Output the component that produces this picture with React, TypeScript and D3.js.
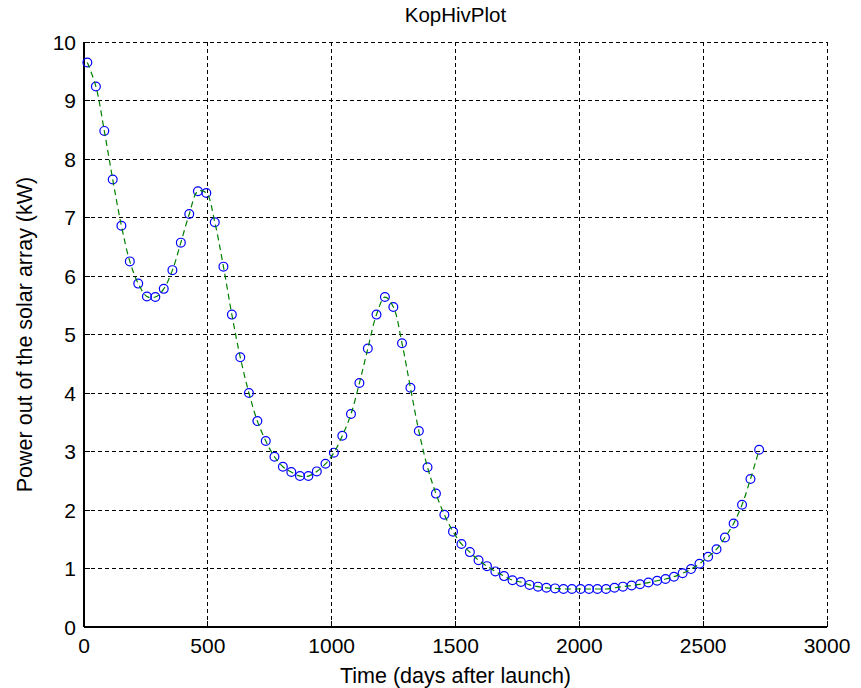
import React from "react";
import * as d3 from "d3";

const days: number[] = [
  13.5, 48, 82, 116, 151, 185, 219, 254, 288, 322,
  357, 391, 425, 460, 494, 528, 563, 597, 631, 666,
  700, 734, 769, 803, 837, 872, 906, 940, 975, 1009,
  1043, 1078, 1112, 1146, 1181, 1215, 1249, 1284, 1318, 1352,
  1387, 1421, 1455, 1490, 1524, 1558, 1593, 1627, 1661, 1696,
  1730, 1764, 1799, 1833, 1867, 1902, 1936, 1970, 2005, 2039,
  2073, 2108, 2142, 2176, 2211, 2245, 2279, 2314, 2348, 2382,
  2417, 2451, 2485, 2520, 2554, 2588, 2623, 2657, 2691, 2726,
];

const power: number[] = [
  9.65, 9.24, 8.48, 7.65, 6.86, 6.25, 5.87, 5.65, 5.64, 5.78,
  6.1, 6.57, 7.06, 7.45, 7.42, 6.92, 6.16, 5.34, 4.61, 4.0,
  3.52, 3.18, 2.91, 2.74, 2.65, 2.58, 2.58, 2.66, 2.79, 2.98,
  3.27, 3.64, 4.17, 4.76, 5.34, 5.64, 5.47, 4.85, 4.09, 3.35,
  2.73, 2.28, 1.92, 1.63, 1.42, 1.28, 1.14, 1.04, 0.95, 0.87,
  0.8, 0.77, 0.72, 0.69, 0.67, 0.66, 0.65, 0.65, 0.65, 0.65,
  0.65, 0.65, 0.67, 0.69, 0.71, 0.73, 0.76, 0.79, 0.82, 0.86,
  0.92, 0.99, 1.08, 1.2, 1.33, 1.53, 1.77, 2.09, 2.53, 3.03,
];

const xTicks: number[] = [0, 500, 1000, 1500, 2000, 2500, 3000];
const yTicks: number[] = [0, 1, 2, 3, 4, 5, 6, 7, 8, 9, 10];

const title = "KopHivPlot";
const xLabel = "Time (days after launch)";
const yLabel = "Power out of the solar array (kW)";

const W = 861;
const H = 688;
const FONT = "'Liberation Sans', Arial, Helvetica, sans-serif";

export default function App() {
  const x = d3.scaleLinear().domain([0, 3000]).range([84, 827]);
  const y = d3.scaleLinear().domain([0, 10]).range([627, 42]);
  const pts = days.map((d, i) => [d, power[i]] as [number, number]);
  const line = d3
    .line<[number, number]>()
    .x((d) => x(d[0]))
    .y((d) => y(d[1]))
    .curve(d3.curveCatmullRom.alpha(0.5));
  const [x0, x1] = x.range();
  const [y0, y1] = y.range();
  const tickLen = 6;

  return (
    <svg
      width={W}
      height={H}
      style={{ position: "absolute", left: 0, top: 0, background: "#fff" }}
      fontFamily={FONT}
    >
      <rect x={0} y={0} width={W} height={H} fill="#fff" />
      {xTicks.map((t) => (
        <line
          key={"gx" + t}
          x1={x(t)}
          x2={x(t)}
          y1={y0}
          y2={y1}
          stroke="#000"
          strokeWidth={1}
          strokeDasharray="4,3"
          shapeRendering="crispEdges"
        />
      ))}
      {yTicks.map((t) => (
        <line
          key={"gy" + t}
          x1={x0}
          x2={x1}
          y1={y(t)}
          y2={y(t)}
          stroke="#000"
          strokeWidth={1}
          strokeDasharray="4,3"
          shapeRendering="crispEdges"
        />
      ))}
      <line x1={x0} x2={x1} y1={y0} y2={y0} stroke="#000" strokeWidth={1.2} shapeRendering="crispEdges" />
      <line x1={x0} x2={x0} y1={y0} y2={y1} stroke="#000" strokeWidth={1.2} shapeRendering="crispEdges" />
      {xTicks.map((t) => (
        <line
          key={"tx" + t}
          x1={x(t)}
          x2={x(t)}
          y1={y0}
          y2={y0 - tickLen}
          stroke="#000"
          shapeRendering="crispEdges"
        />
      ))}
      {yTicks.map((t) => (
        <line
          key={"ty" + t}
          x1={x0}
          x2={x0 + tickLen}
          y1={y(t)}
          y2={y(t)}
          stroke="#000"
          shapeRendering="crispEdges"
        />
      ))}
      {pts.map((p, i) => (
        <circle
          key={"c" + i}
          cx={x(p[0])}
          cy={y(p[1])}
          r={4.4}
          fill="none"
          stroke="#0000ff"
          strokeWidth={1.2}
        />
      ))}
      <path
        d={line(pts) || ""}
        fill="none"
        stroke="#008000"
        strokeWidth={1.2}
        strokeDasharray="6,4"
      />
      {xTicks.map((t) => (
        <text key={"lx" + t} x={x(t)} y={653} textAnchor="middle" fontSize={21} fill="#000">
          {t}
        </text>
      ))}
      {yTicks.map((t) => (
        <text
          key={"ly" + t}
          x={76}
          y={y(t) + 7.5}
          textAnchor="end"
          fontSize={21}
          fill="#000"
        >
          {t}
        </text>
      ))}
      <text x={(x0 + x1) / 2} y={22} textAnchor="middle" fontSize={20.5} fill="#000">
        {title}
      </text>
      <text x={(x0 + x1) / 2} y={683} textAnchor="middle" fontSize={21.5} fill="#000">
        {xLabel}
      </text>
      <text
        transform={`translate(32, ${(y0 + y1) / 2}) rotate(-90)`}
        textAnchor="middle"
        fontSize={21.5}
        fill="#000"
      >
        {yLabel}
      </text>
    </svg>
  );
}
